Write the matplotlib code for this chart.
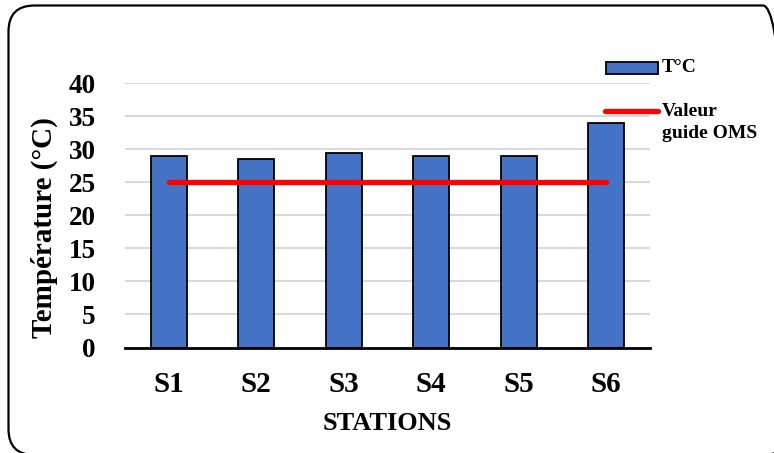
import matplotlib.pyplot as plt
from matplotlib.patches import FancyBboxPatch, Rectangle
from matplotlib.lines import Line2D

stations = ['S1', 'S2', 'S3', 'S4', 'S5', 'S6']
temperature = [29.0, 28.5, 29.5, 29.0, 29.0, 34.0]
valeur_oms = [25, 25, 25, 25, 25, 25]
yticks = [0, 5, 10, 15, 20, 25, 30, 35, 40]

plt.rcParams['font.family'] = ['Liberation Serif', 'DejaVu Serif']
plt.rcParams['font.weight'] = 'bold'

W, H = 774, 453
fig = plt.figure(figsize=(W / 100, H / 100), dpi=100)

def px(x, y):
    # pixels depuis le coin haut-gauche -> coordonnées figure
    return x / W, 1 - y / H

# cadre arrondi autour du graphique
cadre = FancyBboxPatch((8.5, -2), 780.5, 449.5, boxstyle='round,pad=0,rounding_size=26',
                       transform=None, fill=False, edgecolor='black', linewidth=1.6)
fig.patches.append(cadre)

ax = fig.add_axes([125 / W, 1 - 347.5 / H, 525 / W, (347.5 - 83.3) / H])
x = range(len(stations))
ax.bar(x, temperature, width=0.41, color='#4472C4', edgecolor='black', linewidth=1.3, zorder=2)
ax.plot(x, valeur_oms, color='#FF0000', linewidth=3.8, solid_capstyle='round', zorder=3)

ax.set_xlim(-0.5, 5.5)
ax.set_ylim(0, 40)
ax.set_yticks(yticks)
ax.set_xticks(list(x))
ax.set_xticklabels(stations)
ax.tick_params(axis='both', length=0)
ax.tick_params(axis='y', labelsize=19.5, pad=21)
ax.tick_params(axis='x', labelsize=21, pad=17)
ax.yaxis.grid(True, color='#d9d9d9', linewidth=1.5, zorder=0)
ax.set_axisbelow(True)
for s in ['top', 'right', 'left']:
    ax.spines[s].set_visible(False)
ax.spines['bottom'].set_linewidth(2)
ax.spines['bottom'].set_zorder(4)

ax.set_ylabel('Température (°C)', fontsize=21, fontweight='bold')
ax.yaxis.set_label_coords(58 / W, 1 - 228 / H, transform=fig.transFigure)
ax.set_xlabel('STATIONS', fontsize=19, fontweight='bold', labelpad=10)

# légende
x0, y0 = px(605.5, 73.5)
x1, y1 = px(657.5, 62.5)
fig.patches.append(Rectangle((x0, y0), x1 - x0, y1 - y0, transform=fig.transFigure,
                             facecolor='#4472C4', edgecolor='black', linewidth=1.3))
fig.text(*px(662, 68), 'T°C', fontsize=14, fontweight='bold', va='center', ha='left')
lx0, ly = px(605, 111)
lx1, _ = px(658, 111)
fig.lines.append(Line2D([lx0, lx1], [ly, ly], transform=fig.transFigure, color='#FF0000',
                        linewidth=3.8, solid_capstyle='round'))
fig.text(*px(662, 111), 'Valeur', fontsize=14, fontweight='bold', va='center', ha='left')
fig.text(*px(662, 134), 'guide OMS', fontsize=14, fontweight='bold', va='center', ha='left')

fig.savefig('out.png', dpi=100)
